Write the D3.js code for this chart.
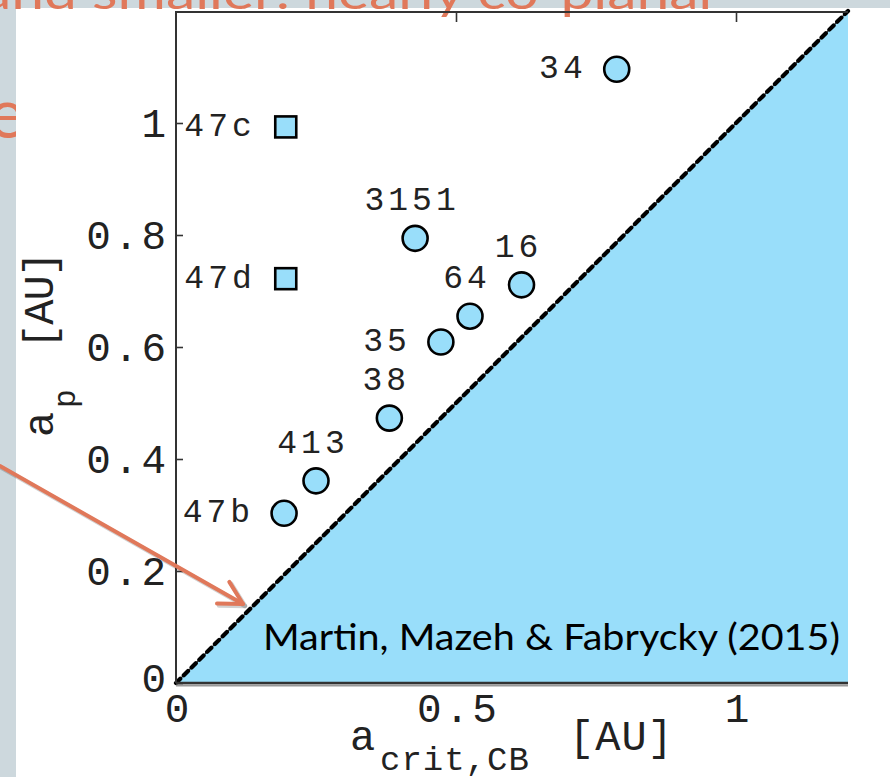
<!DOCTYPE html>
<html>
<head>
<meta charset="utf-8">
<script src="https://cdn.jsdelivr.net/npm/d3@7"></script>
<style>
  html, body { margin: 0; padding: 0; background: #ffffff; }
  svg { display: block; }
</style>
</head>
<body>
<script>
// ---------- data ----------
const planetNames = ["47c", "47d", "47b", "413", "38", "35", "64", "16", "3151", "34"];
const aCrit       = [0.196, 0.196, 0.193, 0.250, 0.381, 0.473, 0.525, 0.617, 0.427, 0.787];
const aPlanet     = [0.993, 0.722, 0.303, 0.361, 0.473, 0.609, 0.655, 0.711, 0.794, 1.096];
const markerShape = ["square", "square", "circle", "circle", "circle", "circle", "circle", "circle", "circle", "circle"];
const labelSide   = ["left", "left", "left", "above", "above", "left", "above", "above", "above", "left"];
const axisDomain  = [0, 1.2];
const xTickValues = [0, 0.5, 1];
const xTickLabels = ["0", "0.5", "1"];
const yTickValues = [0, 0.2, 0.4, 0.6, 0.8, 1];
const yTickLabels = ["0", "0.2", "0.4", "0.6", "0.8", "1"];
const creditText  = "Martin, Mazeh & Fabrycky (2015)";
const slideTitle  = "and smaller: nearly co-planar";

// ---------- layout ----------
const W = 890, H = 777;
const plot = { left: 176, right: 848, top: 11, bottom: 683 };
const BLUE = "#99DEFA";
const ORANGE = "#E0785A";
const INK = "#222";
const MONO = "'Liberation Mono', 'Courier New', monospace";

const svg = d3.select("body").append("svg").attr("width", W).attr("height", H);

// slide background
svg.append("rect").attr("x", 0).attr("y", 0).attr("width", W).attr("height", H).attr("fill", "#CDD8DD");
svg.append("text").attr("x", -12).attr("y", 138).attr("fill", ORANGE)
  .attr("font-family", "Lato, 'Open Sans', sans-serif").attr("font-size", 70).text("e");
svg.append("rect").attr("x", 16).attr("y", 8).attr("width", W - 16).attr("height", H - 8).attr("fill", "#ffffff");
svg.append("text").attr("x", -18).attr("y", 9).attr("fill", ORANGE)
  .attr("font-family", "Lato, 'Open Sans', sans-serif").attr("font-size", 46)
  .attr("textLength", 738).attr("lengthAdjust", "spacingAndGlyphs").text(slideTitle);

const x = d3.scaleLinear().domain(axisDomain).range([plot.left, plot.right]);
const y = d3.scaleLinear().domain(axisDomain).range([plot.bottom, plot.top]);

// unstable region (below diagonal)
svg.append("path").datum(axisDomain)
  .attr("d", d3.area().x(d => x(d)).y0(y(0)).y1(d => y(d)))
  .attr("fill", BLUE);

// diagonal line: thin solid + thick dashes
const diag = d3.line().x(d => x(d)).y(d => y(d));
svg.append("path").datum(axisDomain).attr("d", diag)
  .attr("fill", "none").attr("stroke", "#333").attr("stroke-width", 1.2);
svg.append("path").datum(axisDomain).attr("d", diag)
  .attr("fill", "none").attr("stroke", "#000").attr("stroke-width", 4.2)
  .attr("stroke-dasharray", "6,5").attr("stroke-linecap", "round");

// frame
svg.append("line").attr("x1", plot.left).attr("x2", plot.right).attr("y1", plot.top + 1).attr("y2", plot.top + 1)
  .attr("stroke", "#333").attr("stroke-width", 2);
svg.append("line").attr("x1", plot.left).attr("x2", plot.left).attr("y1", plot.top).attr("y2", plot.bottom)
  .attr("stroke", "#333").attr("stroke-width", 2);
svg.append("line").attr("x1", plot.left).attr("x2", plot.right).attr("y1", plot.bottom + 2.5).attr("y2", plot.bottom + 2.5)
  .attr("stroke", "#999").attr("stroke-width", 2);
svg.append("line").attr("x1", plot.left).attr("x2", plot.right).attr("y1", plot.bottom).attr("y2", plot.bottom)
  .attr("stroke", "#333").attr("stroke-width", 2.5);

// top ticks (pointing inward)
const topAxis = svg.append("g").attr("transform", `translate(0,${plot.top + 1})`)
  .call(d3.axisTop(x).tickValues(xTickValues.filter(v => v > 0)).tickSizeInner(-10).tickSizeOuter(0).tickFormat(""));
topAxis.select(".domain").remove();
topAxis.selectAll(".tick line").attr("stroke", "#333").attr("stroke-width", 1.6);

// bottom axis labels
const bottomAxis = svg.append("g").attr("transform", `translate(0,${plot.bottom})`)
  .call(d3.axisBottom(x).tickValues(xTickValues).tickSize(0).tickPadding(10)
    .tickFormat((d, i) => xTickLabels[i]));
bottomAxis.select(".domain").remove();
bottomAxis.selectAll("text").attr("font-family", MONO).attr("font-size", 41)
  .attr("fill", INK).attr("letter-spacing", 3).attr("dx", 2);

// left axis with inward ticks
const leftAxis = svg.append("g").attr("transform", `translate(${plot.left},0)`)
  .call(d3.axisLeft(y).tickValues(yTickValues).tickSizeInner(-7).tickSizeOuter(0).tickPadding(7)
    .tickFormat((d, i) => yTickLabels[i]));
leftAxis.select(".domain").remove();
leftAxis.selectAll(".tick line").attr("stroke", "#333").attr("stroke-width", 1.6);
leftAxis.selectAll("text").attr("font-family", MONO).attr("font-size", 41)
  .attr("fill", INK).attr("letter-spacing", 3);
leftAxis.selectAll(".tick").filter(d => d === 0).select("text").attr("dy", "0.2em");

// axis titles
const yt = svg.append("g").attr("transform", "translate(53,437) rotate(-90)")
  .attr("font-family", MONO).attr("fill", INK);
yt.append("text").attr("x", 0).attr("y", 0).attr("font-size", 42).text("a");
yt.append("text").attr("x", 29).attr("y", 22).attr("font-size", 31).text("p");
yt.append("text").attr("x", 88).attr("y", 0).attr("font-size", 42).attr("letter-spacing", -1).text("[AU]");

const xt = svg.append("g").attr("font-family", MONO).attr("fill", INK);
xt.append("text").attr("x", 350).attr("y", 750).attr("font-size", 42).text("a");
xt.append("text").attr("x", 380).attr("y", 770).attr("font-size", 34).attr("letter-spacing", 1).text("crit,CB");
xt.append("text").attr("x", 569).attr("y", 750).attr("font-size", 42).attr("letter-spacing", 1).text("[AU]");

// data
const pts = planetNames.map((n, i) => ({ name: n, ax: aCrit[i], ap: aPlanet[i], shape: markerShape[i], side: labelSide[i] }));

const marks = svg.append("g");
marks.selectAll("circle").data(pts.filter(d => d.shape === "circle")).join("circle")
  .attr("cx", d => x(d.ax)).attr("cy", d => y(d.ap)).attr("r", 12.5)
  .attr("fill", BLUE).attr("stroke", "#000").attr("stroke-width", 2.6);
marks.selectAll("rect").data(pts.filter(d => d.shape === "square")).join("rect")
  .attr("x", d => x(d.ax) - 10.5).attr("y", d => y(d.ap) - 10.5).attr("width", 21).attr("height", 21)
  .attr("fill", BLUE).attr("stroke", "#000").attr("stroke-width", 2.6);

svg.append("g").selectAll("text").data(pts).join("text")
  .attr("x", d => d.side === "left" ? x(d.ax) - 30 : x(d.ax) - 3)
  .attr("y", d => d.side === "left" ? y(d.ap) + 9 : y(d.ap) - 28)
  .attr("text-anchor", d => d.side === "left" ? "end" : "middle")
  .attr("font-family", MONO).attr("font-size", 33).attr("letter-spacing", 4)
  .attr("fill", INK).text(d => d.name);

// credit
svg.append("text").attr("x", 263).attr("y", 650).attr("font-family", "Lato, 'Open Sans', sans-serif")
  .attr("font-size", 37).attr("fill", "#000").attr("textLength", 577).attr("lengthAdjust", "spacingAndGlyphs")
  .text(creditText);

// arrow annotation
const arrowPts = [[0, 466], [243, 604]];
const ang = Math.atan2(arrowPts[1][1] - arrowPts[0][1], arrowPts[1][0] - arrowPts[0][0]);
const tip = arrowPts[1];
const barb = (a) => [tip[0] - 26 * Math.cos(ang + a), tip[1] - 26 * Math.sin(ang + a)];
const arrowG = svg.append("g").attr("fill", "none").attr("stroke-linecap", "round").attr("stroke-linejoin", "round");
const drawArrow = (col, w, off) => {
  arrowG.append("path").attr("d", d3.line()(arrowPts.map(p => [p[0] + off, p[1] + off])))
    .attr("stroke", col).attr("stroke-width", w);
  arrowG.append("path").attr("d", d3.line()([barb(0.5), tip, barb(-0.5)].map(p => [p[0] + off, p[1] + off])))
    .attr("stroke", col).attr("stroke-width", w);
};
drawArrow("rgba(0,0,0,0.18)", 4.5, 2);
drawArrow(ORANGE, 4, 0);
</script>
</body>
</html>
